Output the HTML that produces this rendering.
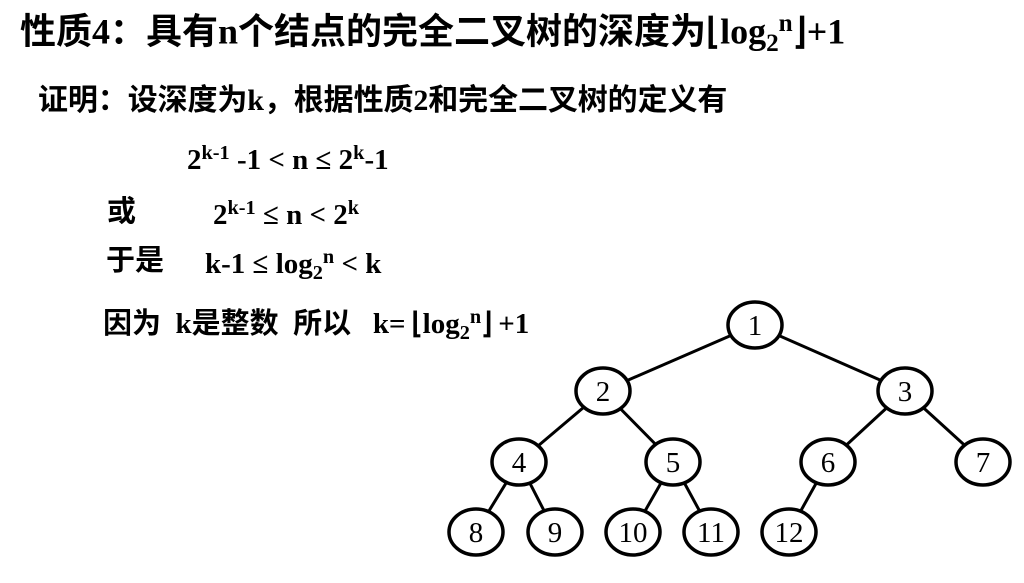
<!DOCTYPE html>
<html><head><meta charset="utf-8"><style>
body{margin:0;width:1024px;height:583px;background:#fff;overflow:hidden;position:relative}
.t{position:absolute;white-space:nowrap;font-weight:bold;color:#000;line-height:1}
.cj{font-family:"Liberation Serif","Noto Sans CJK SC",sans-serif}
.m{font-family:"Liberation Serif",serif}
sup{font-size:70%;vertical-align:0.5em}
sub{font-size:70%;vertical-align:-0.3em}
</style></head><body>
<div class="t cj" style="left:20px;top:11px;font-size:36px;">性质4：具有n个结点的完全二叉树的深度为⌊log<sub>2</sub><sup>n</sup>⌋+1</div>
<div class="t cj" style="left:38px;top:86px;font-size:30px;letter-spacing:-0.1px">证明：设深度为k，根据性质2和完全二叉树的定义有</div>
<div class="t m" style="left:187px;top:143px;font-size:29px;">2<sup>k-1</sup> -1 &lt; n ≤ 2<sup>k</sup>-1</div>
<div class="t cj" style="left:107px;top:198px;font-size:29px;">或</div>
<div class="t m" style="left:213px;top:198px;font-size:29px;">2<sup>k-1</sup> ≤ n &lt; 2<sup>k</sup></div>
<div class="t cj" style="left:106px;top:247px;font-size:29px;">于是</div>
<div class="t m" style="left:205px;top:247px;font-size:29px;">k-1 ≤ log<sub>2</sub><sup>n</sup> &lt; k</div>
<div class="t cj" style="left:103px;top:307px;font-size:29px;">因为&nbsp;&nbsp;k是整数&nbsp;&nbsp;所以&nbsp;&nbsp;&nbsp;k=&thinsp;⌊log<sub>2</sub><sup>n</sup>⌋&thinsp;+1</div>
<svg width="1024" height="583" style="position:absolute;left:0;top:0" font-family="Liberation Serif, serif" font-size="29">
<g stroke="#000" stroke-width="3">
<line x1="755" y1="325" x2="603" y2="391"/><line x1="755" y1="325" x2="905" y2="391"/>
<line x1="603" y1="391" x2="519" y2="462"/><line x1="603" y1="391" x2="673" y2="462"/>
<line x1="905" y1="391" x2="828" y2="462"/><line x1="905" y1="391" x2="983" y2="462"/>
<line x1="519" y1="462" x2="476" y2="532"/><line x1="519" y1="462" x2="555" y2="532"/>
<line x1="673" y1="462" x2="633" y2="532"/><line x1="673" y1="462" x2="711" y2="532"/>
<line x1="828" y1="462" x2="789" y2="532"/>
</g>
<g fill="#fff" stroke="#000" stroke-width="3.5">
<ellipse cx="755" cy="325" rx="27" ry="23"/>
<ellipse cx="603" cy="391" rx="27" ry="23"/><ellipse cx="905" cy="391" rx="27" ry="23"/>
<ellipse cx="519" cy="462" rx="27" ry="23"/><ellipse cx="673" cy="462" rx="27" ry="23"/>
<ellipse cx="828" cy="462" rx="27" ry="23"/><ellipse cx="983" cy="462" rx="27" ry="23"/>
<ellipse cx="476" cy="532" rx="27" ry="23"/><ellipse cx="555" cy="532" rx="27" ry="23"/>
<ellipse cx="633" cy="532" rx="27" ry="23"/><ellipse cx="711" cy="532" rx="27" ry="23"/>
<ellipse cx="789" cy="532" rx="27" ry="23"/>
</g>
<g text-anchor="middle" fill="#000">
<text x="755" y="335">1</text><text x="603" y="401">2</text><text x="905" y="401">3</text>
<text x="519" y="472">4</text><text x="673" y="472">5</text><text x="828" y="472">6</text><text x="983" y="472">7</text>
<text x="476" y="542">8</text><text x="555" y="542">9</text><text x="633" y="542">10</text><text x="711" y="542">11</text><text x="789" y="542">12</text>
</g>
</svg>
</body></html>
